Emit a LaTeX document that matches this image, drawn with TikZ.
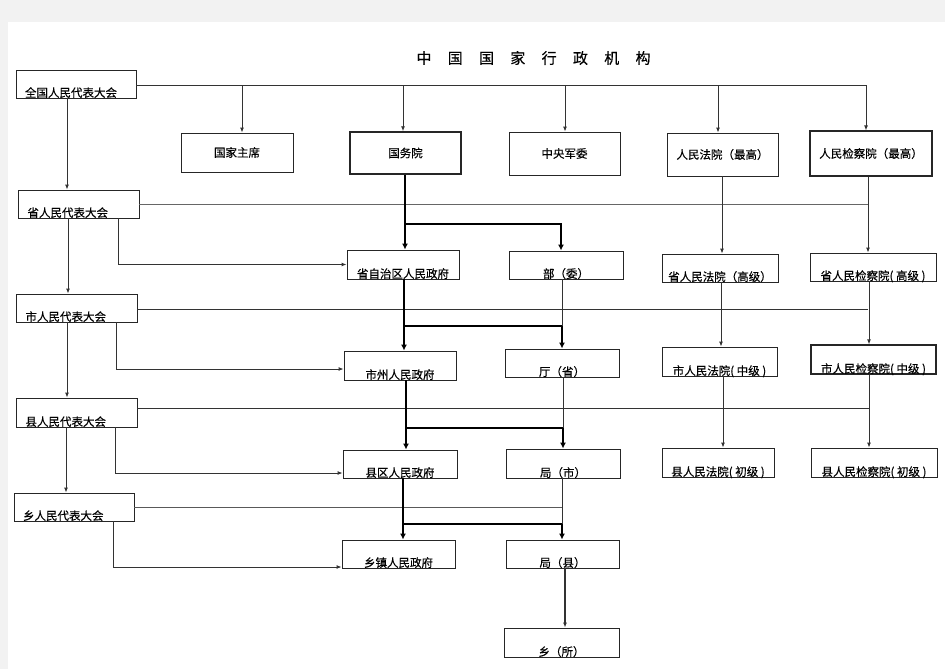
\documentclass[tikz,border=0pt]{standalone}
\usepackage{fontspec}
\setmainfont{Noto Sans CJK SC}[FakeBold=0.4,AutoFakeBold=0.4]
\newfontfamily\boldcjk{Noto Sans CJK SC}[FakeBold=0.4]
\usetikzlibrary{arrows.meta}
\begin{document}
\begin{tikzpicture}[x=1pt,y=-1pt,
  base/.style={draw=black!85, line width=0.9pt, inner sep=0pt, font=\boldcjk\fontsize{11.5}{13}\selectfont},
  cbox/.style n args={3}{base, minimum width=#1pt, minimum height=#2pt, text height=#3pt, text depth=1pt, text width=102pt, align=left},
  lbox/.style n args={3}{base, minimum width=#1pt, minimum height=#2pt, text height=#3pt, text depth=1pt},
  mbox/.style 2 args={base, minimum width=#1pt, minimum height=#2pt},
  ln/.style={draw=black!80, line width=0.9pt},
  arr/.style={ln, -{Latex[length=5pt,width=4pt]}},
  tline/.style={draw=black, line width=2.2pt},
  tarr/.style={tline, -{Latex[length=6pt,width=6pt]}}
]
\useasboundingbox (0,0) rectangle (945,669);
\fill[black!5] (0,0) rectangle (945,669);
\fill[white] (8,22) rectangle (945,669);

% title
\node[font=\boldcjk\fontsize{15}{15}\selectfont] (title) at (533.5,58)
  {中\hspace{16.3pt}国\hspace{16.3pt}国\hspace{16.3pt}家\hspace{16.3pt}行\hspace{16.3pt}政\hspace{16.3pt}机\hspace{16.3pt}构};

% congress column
\node[cbox={120}{28}{27}] (nrc) at (76,84) {全国人民代表大会};
\node[cbox={121}{28}{27}] (prc) at (78.5,204) {省人民代表大会};
\node[cbox={121}{28}{27}] (crc) at (76.5,308) {市人民代表大会};
\node[cbox={121}{29}{28}] (xrc) at (76.5,412.5) {县人民代表大会};
\node[cbox={120}{28}{27}] (trc) at (74,507) {乡人民代表大会};

% first row
\node[mbox={112}{39}] (zx) at (237,152.5) {国家主席};
\node[mbox={111}{42}, line width=1.5pt] (gwy) at (405.5,153) {国务院};
\node[mbox={111}{43}] (jw) at (564.5,153.5) {中央军委};
\node[mbox={111}{43}] (fy) at (722.5,154.5) {人民法院（最高）};
\node[mbox={122}{45}, line width=1.2pt] (jcy) at (871,153.5) {人民检察院（最高）};

% second row
\node[lbox={112}{29}{28}] (sgov) at (403,264.5) {省自治区人民政府};
\node[lbox={114}{28}{27}] (bu) at (566,265) {部（委）};
\node[lbox={116}{28}{27}] (sfy) at (720,268) {省人民法院（高级）};
\node[lbox={126}{28}{27}] (sjc) at (873,267) {省人民检察院( 高级 )};

% third row
\node[lbox={112}{29}{28}] (cgov) at (400,365.5) {市州人民政府};
\node[lbox={114}{28}{27}] (ting) at (562,363) {厅（省）};
\node[lbox={115}{29}{28}] (cfy) at (719.5,361.5) {市人民法院( 中级 )};
\node[lbox={125}{29}{28}, line width=1.3pt] (cjc) at (873.5,359.5) {市人民检察院( 中级 )};

% fourth row
\node[lbox={114}{28}{27}] (xgov) at (400,464) {县区人民政府};
\node[lbox={114}{29}{28}] (jus) at (563,463.5) {局（市）};
\node[lbox={112}{29}{28}] (xfy) at (718,462.5) {县人民法院( 初级 )};
\node[lbox={126}{29}{28}] (xjc) at (874,462.5) {县人民检察院( 初级 )};

% fifth / sixth row
\node[lbox={113}{28}{27}] (tgov) at (398.5,554) {乡镇人民政府};
\node[lbox={113}{28}{27}] (jux) at (562.5,554) {局（县）};
\node[lbox={115}{29}{28}] (xs) at (561.5,642.5) {乡（所）};

% coordinates
\coordinate (t1) at (242,85);
\coordinate (t2) at (403,85);
\coordinate (t3) at (565,85);
\coordinate (t4) at (718,85);
\coordinate (t5) at (866,85);
\coordinate (h2) at (868,204);
\coordinate (h3) at (868,309);
\coordinate (h4) at (869,408);
\coordinate (h5) at (563,507);
\coordinate (v1) at (67,0);
\coordinate (v2) at (68,0);
\coordinate (v4) at (66,0);
\coordinate (e2) at (118,264.5);
\coordinate (e3) at (116,369);
\coordinate (e4) at (115,473);
\coordinate (e5) at (113,567);
\coordinate (g1) at (405,224);
\coordinate (k1) at (561,224);
\coordinate (g2) at (404,326);
\coordinate (k2) at (562,326);
\coordinate (g3) at (406,428);
\coordinate (k3) at (563,428);
\coordinate (g4) at (403,524);
\coordinate (k4) at (562,524);
\coordinate (k5) at (565,0);
\coordinate (f1) at (722,0);
\coordinate (f2) at (868,0);
\coordinate (f3) at (721,0);
\coordinate (f4) at (869,0);
\coordinate (f5) at (723,0);

% top bus
\draw[ln] (nrc.east |- t5) -- (t5);
\draw[arr] (t1) -- (t1 |- zx.north);
\draw[arr] (t2) -- (t2 |- gwy.north);
\draw[arr] (t3) -- (t3 |- jw.north);
\draw[arr] (t4) -- (t4 |- fy.north);
\draw[arr] (t5) -- (t5 |- jcy.north);

% congress verticals
\draw[arr] (nrc.south -| v1) -- (prc.north -| v1);
\draw[arr] (prc.south -| v2) -- (crc.north -| v2);
\draw[arr] (crc.south -| v1) -- (xrc.north -| v1);
\draw[arr] (xrc.south -| v4) -- (trc.north -| v4);

% congress horizontals
\draw[ln, draw=black!60] (prc.east |- h2) -- (h2);
\draw[ln] (crc.east |- h3) -- (h3);
\draw[ln] (xrc.east |- h4) -- (h4);
\draw[ln, draw=black!65] (trc.east |- h5) -- (h5);

% congress to government
\draw[arr] (prc.south -| e2) |- (sgov.west |- e2);
\draw[arr] (crc.south -| e3) |- (cgov.west |- e3);
\draw[arr] (xrc.south -| e4) |- (xgov.west |- e4);
\draw[arr] (trc.south -| e5) |- (tgov.west |- e5);

% government chain
\draw[tarr] (gwy.south -| g1) -- (sgov.north -| g1);
\draw[tarr] (g1) -| (bu.north -| k1);
\draw[tarr] (sgov.south -| g2) -- (cgov.north -| g2);
\draw[tarr] (g2) -| (ting.north -| k2);
\draw[ln] (bu.south -| k2) -- (k2);
\draw[tarr] (cgov.south -| g3) -- (xgov.north -| g3);
\draw[tarr] (g3) -| (jus.north -| k3);
\draw[ln] (ting.south -| k3) -- (k3);
\draw[tarr] (xgov.south -| g4) -- (tgov.north -| g4);
\draw[tarr] (g4) -| (jux.north -| k4);
\draw[ln] (jus.south -| k4) -- (k4);
\draw[ln, line width=1.6pt, -{Latex[length=5pt,width=4pt]}] (jux.south -| k5) -- (xs.north -| k5);

% courts
\draw[arr] (fy.south -| f1) -- (sfy.north -| f1);
\draw[arr] (jcy.south -| f2) -- (sjc.north -| f2);
\draw[arr] (sfy.south -| f3) -- (cfy.north -| f3);
\draw[arr] (sjc.south -| f4) -- (cjc.north -| f4);
\draw[arr] (cfy.south -| f5) -- (xfy.north -| f5);
\draw[arr] (cjc.south -| f4) -- (xjc.north -| f4);
\end{tikzpicture}
\end{document}
